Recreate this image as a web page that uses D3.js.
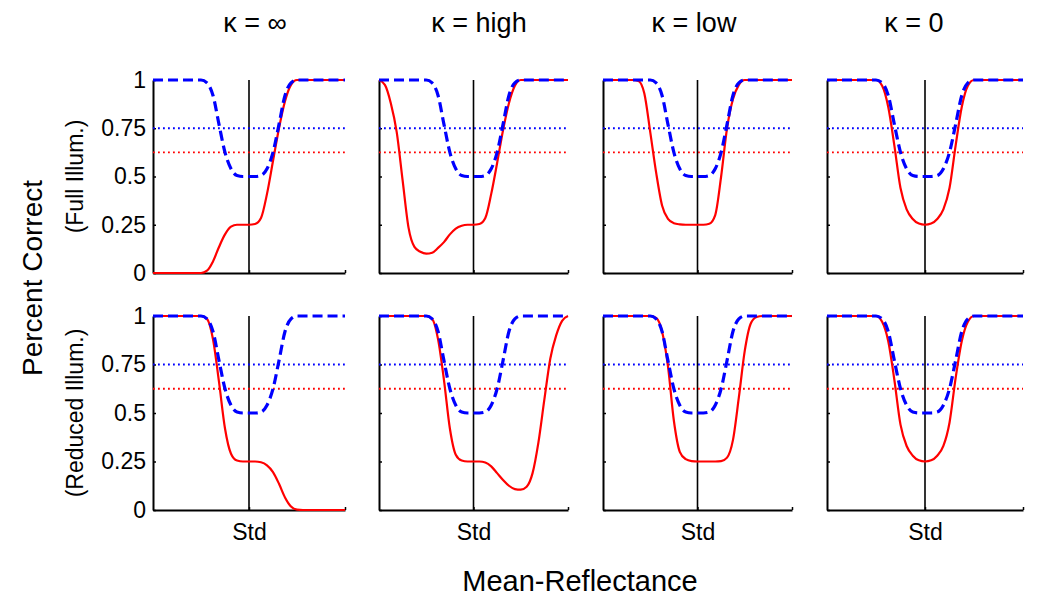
<!DOCTYPE html>
<html><head><meta charset="utf-8">
<script src="https://cdn.jsdelivr.net/npm/d3@7"></script>
<style>
body{margin:0;background:#fff;}
svg text{font-family:"Liberation Sans",Arial,Helvetica,sans-serif;fill:#000;}
</style>
</head><body>
<svg id="chart" width="1050" height="612"></svg>
<script>
// ---------------- DATA ----------------
const xGrid = [-4,-3.75,-3.5,-3.25,-3,-2.75,-2.5,-2.25,-2,-1.75,-1.5,-1.25,-1,-0.75,-0.5,-0.25,0,
               0.25,0.5,0.75,1,1.25,1.5,1.75,2,2.25,2.5,2.75,3,3.25,3.5,3.75,4];
const columnTitles = ["κ = ∞","κ = high","κ = low","κ = 0"];
const rowTitles = ["(Full Illum.)","(Reduced Illum.)"];
const yTickValues = [0,0.25,0.5,0.75,1];
const yTickLabels = ["0","0.25","0.5","0.75","1"];
const xTickValues = [0,4];
const xTickLabels = ["Std",""];
const yAxisTitle = "Percent Correct";
const xAxisTitle = "Mean-Reflectance";
const blueThreshold = [0.75];
const redThreshold = [0.625];

// blue dashed curve (same in every panel)
const blueDashed = [1,1,1,1,1,1,1,1,1,0.985,0.92,0.77,0.625,0.54,0.505,0.5,0.5,
                    0.5,0.505,0.54,0.625,0.77,0.92,0.985,1,1,1,1,1,1,1,1,1];

// red solid curves, full illumination row
const redFullInf  = [0,0,0,0,0,0,0,0,0,0.012,0.06,0.135,0.2,0.24,0.25,0.25,0.25,
                     0.254,0.285,0.41,0.58,0.75,0.89,0.975,1,1,1,1,1,1,1,1,1];
const redFullHigh = [1,0.975,0.88,0.73,0.48,0.235,0.135,0.11,0.1,0.105,0.13,0.16,0.2,0.23,0.245,0.25,0.25,
                     0.254,0.285,0.41,0.57,0.74,0.88,0.97,1,1,1,1,1,1,1,1,1];
const redFullLow  = [1,1,1,1,1,1,0.995,0.93,0.73,0.52,0.35,0.28,0.258,0.252,0.25,0.25,0.25,
                     0.25,0.255,0.3,0.5,0.75,0.9,0.975,1,1,1,1,1,1,1,1,1];
const redFullZero = [1,1,1,1,1,1,1,1,1,0.97,0.86,0.66,0.44,0.33,0.28,0.256,0.25,
                     0.256,0.28,0.33,0.44,0.66,0.86,0.97,1,1,1,1,1,1,1,1,1];
// red solid curves, reduced illumination row
const redRedInf   = [1,1,1,1,1,1,1,1,1,0.985,0.88,0.66,0.42,0.29,0.255,0.25,0.25,
                     0.25,0.246,0.23,0.195,0.135,0.065,0.018,0.002,0,0,0,0,0,0,0,0];
const redRedHigh  = [1,1,1,1,1,1,1,1,1,0.985,0.88,0.67,0.42,0.285,0.255,0.25,0.25,
                     0.25,0.245,0.225,0.19,0.155,0.125,0.108,0.105,0.12,0.19,0.35,0.57,0.78,0.9,0.975,1];
const redRedLow   = [1,1,1,1,1,1,1,1,1,0.99,0.92,0.74,0.46,0.3,0.262,0.252,0.25,
                     0.25,0.25,0.25,0.252,0.27,0.36,0.58,0.82,0.96,0.995,1,1,1,1,1,1];
const redRedZero  = [1,1,1,1,1,1,1,1,1,0.97,0.87,0.67,0.44,0.33,0.28,0.256,0.25,
                     0.256,0.28,0.33,0.45,0.68,0.87,0.97,1,1,1,1,1,1,1,1,1];

const redRows = [[redFullInf,redFullHigh,redFullLow,redFullZero],
                 [redRedInf,redRedHigh,redRedLow,redRedZero]];

// ---------------- LAYOUT ----------------
const colRange = [[153,345],[379,568],[603,792],[827,1023]];
const rowRange = [[273,80],[510,316]];
const titleX = [255,479,694,914];
const FONT = '"Liberation Sans",Arial,Helvetica,sans-serif';

const svg = d3.select("#chart");

rowRange.forEach((yr, r) => {
  colRange.forEach((xr, c) => {
    const x = d3.scaleLinear().domain([-4,4]).range(xr);
    const y = d3.scaleLinear().domain([0,1]).range(yr);
    const g = svg.append("g");

    // y axis
    const ya = d3.axisLeft(y).tickValues(yTickValues).tickSizeInner(-3).tickSizeOuter(0).tickPadding(7)
      .tickFormat((d,i) => c === 0 ? yTickLabels[i] : "");
    const yg = g.append("g").attr("transform", `translate(${xr[0]},0)`).call(ya);
    yg.select(".domain").attr("stroke","#000").attr("stroke-width",2);
    yg.selectAll(".tick line").attr("stroke","#000").attr("stroke-width",1.5);
    yg.selectAll("text").attr("font-size",23).attr("font-family",FONT).attr("fill","#000");

    // x axis
    const xa = d3.axisBottom(x).tickValues(xTickValues).tickSizeInner(-3).tickSizeOuter(0).tickPadding(14)
      .tickFormat((d,i) => r === 1 ? xTickLabels[i] : "");
    const xg = g.append("g").attr("transform", `translate(0,${yr[0]})`).call(xa);
    xg.select(".domain").attr("stroke","#000").attr("stroke-width",2);
    xg.selectAll(".tick line").attr("stroke","#000").attr("stroke-width",1.5);
    xg.selectAll("text").attr("font-size",23).attr("font-family",FONT).attr("fill","#000");

    // standard vertical line
    g.append("line").attr("x1",x(0)).attr("x2",x(0)).attr("y1",y(0)).attr("y2",y(1))
      .attr("stroke","#000").attr("stroke-width",1.6);

    // threshold dotted lines
    g.selectAll(".bt").data(blueThreshold).join("line")
      .attr("x1",xr[0]).attr("x2",xr[1]).attr("y1",d=>y(d)).attr("y2",d=>y(d))
      .attr("stroke","#0000ff").attr("stroke-width",1.8).attr("stroke-dasharray","1.8 3.2");
    g.selectAll(".rt").data(redThreshold).join("line")
      .attr("x1",xr[0]).attr("x2",xr[1]).attr("y1",d=>y(d)).attr("y2",d=>y(d))
      .attr("stroke","#ff0000").attr("stroke-width",1.8).attr("stroke-dasharray","1.8 3.2");

    const line = d3.line().x((d,i)=>x(xGrid[i])).y(d=>y(d)).curve(d3.curveMonotoneX);

    g.append("path").datum(redRows[r][c]).attr("d",line)
      .attr("fill","none").attr("stroke","#ff0000").attr("stroke-width",2.2);
    g.append("path").datum(blueDashed).attr("d",line)
      .attr("fill","none").attr("stroke","#0000ff").attr("stroke-width",3.2).attr("stroke-dasharray","10 5");

    if (r === 0) {
      svg.append("text").attr("x",titleX[c]).attr("y",32).attr("text-anchor","middle")
        .attr("font-size",27).attr("font-family",FONT).text(columnTitles[c]);
    }
  });
  // row titles
  const cy = (yr[0]+yr[1])/2;
  svg.append("text").attr("transform",`translate(83,${cy}) rotate(-90)`).attr("text-anchor","middle")
    .attr("font-size",23).attr("font-family",FONT).text(rowTitles[r]);
});

svg.append("text").attr("transform",`translate(42,278) rotate(-90)`).attr("text-anchor","middle")
  .attr("font-size",28).attr("font-family",FONT).text(yAxisTitle);
svg.append("text").attr("x",580).attr("y",591).attr("text-anchor","middle")
  .attr("font-size",29).attr("font-family",FONT).text(xAxisTitle);
</script>
</body></html>
